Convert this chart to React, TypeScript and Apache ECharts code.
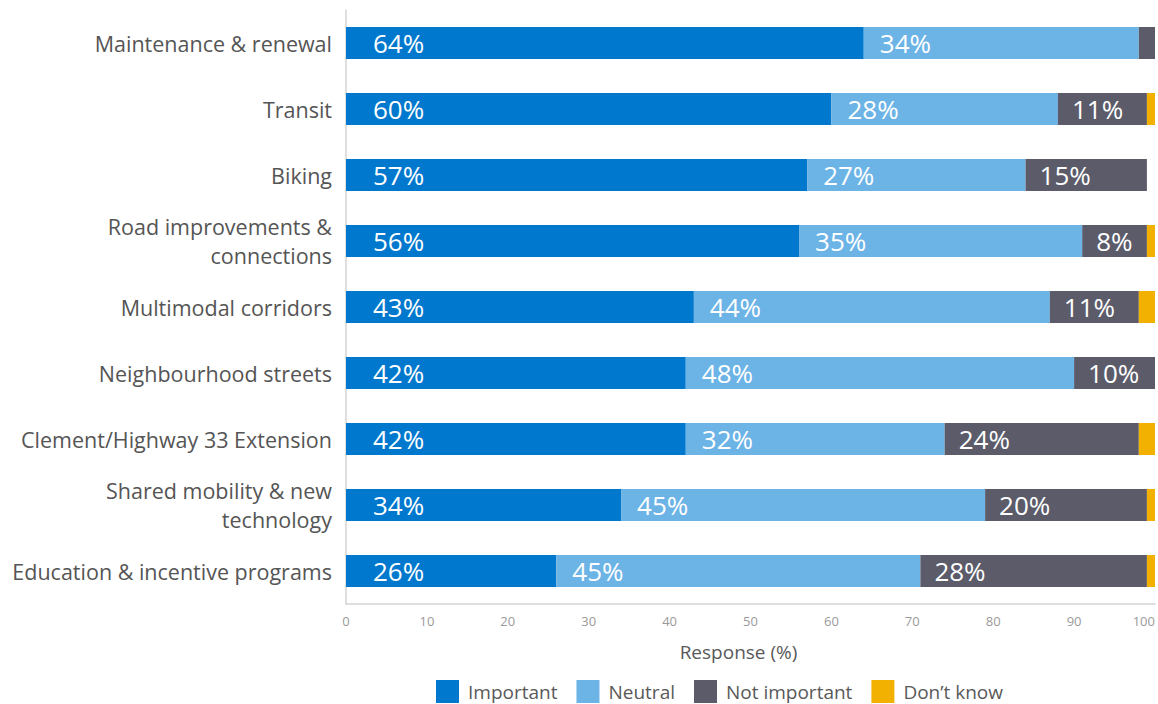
import React, { useEffect, useRef } from "react";
import * as echarts from "echarts";

const categories = [
  "Maintenance & renewal",
  "Transit",
  "Biking",
  "Road improvements &\nconnections",
  "Multimodal corridors",
  "Neighbourhood streets",
  "Clement/Highway 33 Extension",
  "Shared mobility & new\ntechnology",
  "Education & incentive programs",
];

const important = [64, 60, 57, 56, 43, 42, 42, 34, 26];
const neutral = [34, 28, 27, 35, 44, 48, 32, 45, 45];
const notImportant = [2, 11, 15, 8, 11, 10, 24, 20, 28];
const dontKnow = [0, 1, 0, 1, 2, 0, 2, 1, 1];

const xTicks = [0, 10, 20, 30, 40, 50, 60, 70, 80, 90, 100];

const FONT = "'Open Sans', sans-serif";

export default function App() {
  const ref = useRef<HTMLDivElement>(null);

  useEffect(() => {
    if (!ref.current) return;
    const chart = echarts.init(ref.current, null, { renderer: "svg" });

    const mkLabel = (distance: number) => ({
      show: true,
      position: "insideLeft",
      distance,
      color: "#ffffff",
      fontSize: 26,
      fontFamily: FONT,
      formatter: (p: any) => (p.value >= 5 ? `${p.value}%` : ""),
    });

    const series = [
      { name: "Important", data: important, color: "#0078CE", label: mkLabel(27) },
      { name: "Neutral", data: neutral, color: "#6CB3E6", label: mkLabel(16) },
      { name: "Not important", data: notImportant, color: "#5B5B6A", label: mkLabel(14) },
      { name: "Don\u2019t know", data: dontKnow, color: "#F2B000", label: { show: false } },
    ].map((s) => ({
      type: "bar",
      name: s.name,
      stack: "total",
      data: s.data,
      barWidth: 32,
      itemStyle: { color: s.color },
      label: s.label,
      emphasis: { disabled: true },
    }));

    chart.setOption({
      animation: false,
      textStyle: { fontFamily: FONT },
      grid: { left: 346, right: 3, top: 10, bottom: 100, containLabel: false },
      legend: {
        left: 436,
        top: 680,
        padding: 0,
        itemWidth: 23,
        itemHeight: 23,
        itemGap: 19,
        icon: "rect",
        textStyle: { fontSize: 19, color: "#595959", fontFamily: FONT, padding: [0, 0, 0, 4] },
        data: ["Important", "Neutral", "Not important", "Don\u2019t know"],
      },
      xAxis: {
        type: "value",
        min: xTicks[0],
        max: xTicks[xTicks.length - 1],
        interval: 10,
        name: "Response (%)",
        nameLocation: "middle",
        nameGap: 38,
        nameTextStyle: {
          fontSize: 19,
          color: "#595959",
          fontFamily: FONT,
          padding: [0, 24, 0, 0],
        },
        axisLine: { show: true, lineStyle: { color: "#d4d4d4", width: 1.5 } },
        axisTick: { show: false },
        splitLine: { show: false },
        axisLabel: {
          color: "#9a9a9a",
          fontSize: 13,
          margin: 10,
          alignMaxLabel: "right",
          fontFamily: FONT,
        },
      },
      yAxis: {
        type: "category",
        inverse: true,
        data: categories,
        axisLine: { show: true, lineStyle: { color: "#d4d4d4", width: 1.5 } },
        axisTick: { show: false },
        axisLabel: {
          color: "#555555",
          fontSize: 21.5,
          margin: 14,
          lineHeight: 29,
          align: "right",
          fontFamily: FONT,
        },
      },
      series,
    });

    return () => chart.dispose();
  }, []);

  return (
    <div
      ref={ref}
      style={{ position: "fixed", left: 0, top: 0, width: 1158, height: 704, background: "#fff" }}
    />
  );
}
